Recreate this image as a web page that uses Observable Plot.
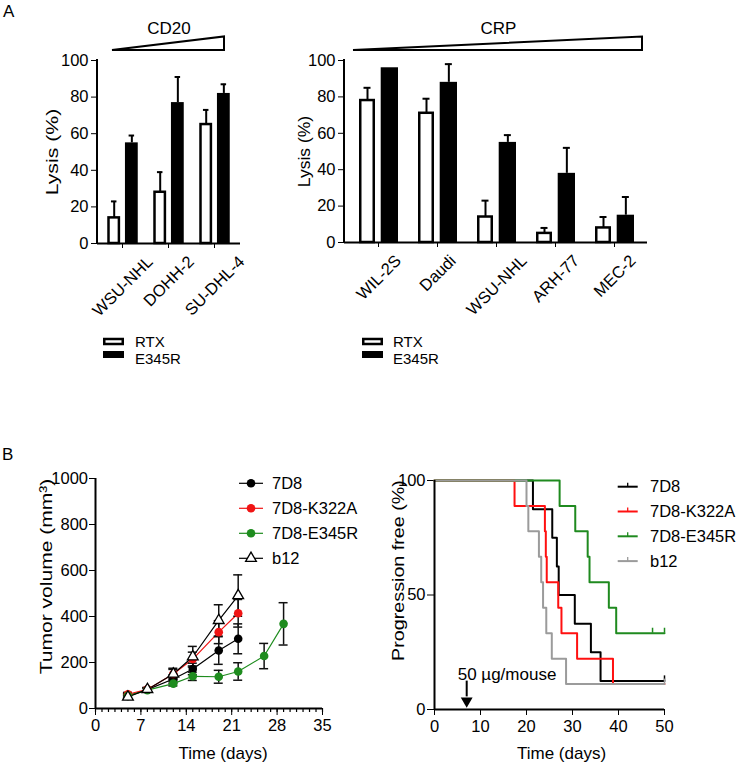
<!DOCTYPE html>
<html>
<head>
<meta charset="utf-8">
<script src="https://cdn.jsdelivr.net/npm/d3@7"></script>
<script src="https://cdn.jsdelivr.net/npm/@observablehq/plot@0.6"></script>
<style>
html,body{margin:0;padding:0;background:#fff;}
#root{position:relative;width:737px;height:765px;overflow:hidden;background:#fff;}
#root svg{position:absolute;left:0;top:0;background:transparent;overflow:visible;max-width:none;}
</style>
</head>
<body>
<div id="root"></div>
<script>
// ---------------- Data ----------------
// Panel A (left): CD20
const cd20Lines = ["WSU-NHL", "DOHH-2", "SU-DHL-4"];
const cd20RTX = [14, 28, 65];
const cd20RTXErr = [9, 11, 8];
const cd20E345R = [55, 77, 82];
const cd20E345RErr = [4, 14, 5];

// Panel A (right): CRP
const crpLines = ["WIL-2S", "Daudi", "WSU-NHL", "ARH-77", "MEC-2"];
const crpRTX = [78, 71, 14, 5, 8];
const crpRTXErr = [7, 8, 9, 3, 6];
const crpE345R = [96, 88, 55, 38, 15];
const crpE345RErr = [0, 10, 4, 14, 10];

const lysisTicks = [0, 20, 40, 60, 80, 100];
const barSeries = ["RTX", "E345R"];

// Panel B (left): tumor volume
const tvSeries = ["7D8", "7D8-K322A", "7D8-E345R", "b12"];
const tvDays = [5, 8, 12, 15, 19, 22];
const tvDaysE345R = [5, 8, 12, 15, 19, 22, 26, 29];
const tv7D8 = [55, 82, 128, 172, 252, 303];
const tv7D8Err = [10, 8, 18, 25, 60, 65];
const tvK322A = [62, 83, 150, 215, 332, 414];
const tvK322AErr = [8, 8, 20, 30, 50, 60];
const tvE345R = [55, 80, 108, 140, 138, 161, 228, 368];
const tvE345RErr = [8, 6, 10, 18, 28, 38, 55, 92];
const tvB12 = [50, 83, 150, 225, 383, 491];
const tvB12Err = [8, 8, 25, 45, 68, 90];
const tvXTicks = [0, 7, 14, 21, 28, 35];
const tvYTicks = [0, 200, 400, 600, 800, 1000];
const tvMinorTicks = d3.range(0, 36);

// Panel B (right): progression-free (Kaplan-Meier)
const kmT7D8 = [0, 21.4, 25.6, 26.6, 27.0, 30.5, 34.0, 36.1, 50];
const kmS7D8 = [100, 87.5, 75, 62.5, 50, 37.5, 25, 12.5, 12.5];
const kmTK322A = [0, 17.4, 24.0, 24.2, 24.4, 26.9, 27.6, 31.0, 38.8, 50];
const kmSK322A = [100, 88.9, 77.8, 66.7, 55.6, 44.4, 33.3, 22.2, 11.1, 11.1];
const kmTE345R = [0, 27.2, 30.6, 33.3, 33.7, 37.9, 39.5, 50];
const kmSE345R = [100, 88.9, 77.8, 66.7, 55.6, 44.4, 33.3, 33.3];
const kmTB12 = [0, 20.0, 20.4, 22.7, 23.2, 23.6, 24.3, 25.5, 28.6, 50];
const kmSB12 = [100, 88.9, 77.8, 66.7, 55.6, 44.4, 33.3, 22.2, 11.1, 11.1];
const kmCensor7D8 = [50];
const kmCensorK322A = [];
const kmCensorE345R = [47.4, 50];
const kmCensorB12 = [50];
const kmXTicks = [0, 10, 20, 30, 40, 50];
const kmYTicks = [0, 50, 100];
const doseDay = [7];
const doseLabel = "50 µg/mouse";

const tvColors = ["#000000", "#f01414", "#1e8c1e", "#000000"];
const kmColors = ["#000000", "#ff1010", "#1f8a1f", "#9b9b9b"];

// ---------------- Layout ----------------
const W = 737, H = 765;
const FONT = '"Liberation Sans", Arial, Helvetica, sans-serif';
const root = document.getElementById("root");
const svgNS = "http://www.w3.org/2000/svg";
const baseStyle = {fontFamily: FONT, fontSize: "16.5px", background: "transparent", overflow: "visible", color: "black"};
function frame(l, r, t, b) {
  return {width: W, height: H, marginLeft: l, marginRight: W - r, marginTop: t, marginBottom: H - b};
}
// y-axis line drawn at the frame's left edge (render-function mark)
function yAxisLine(index, scales, values, dims) {
  const el = document.createElementNS(svgNS, "line");
  el.setAttribute("x1", dims.marginLeft); el.setAttribute("x2", dims.marginLeft);
  el.setAttribute("y1", dims.marginTop - 1); el.setAttribute("y2", dims.height - dims.marginBottom + 1);
  el.setAttribute("stroke", "black"); el.setAttribute("stroke-width", 2);
  return el;
}
function fixRotated(svg) {
  d3.select(svg).selectAll("text").each(function () {
    const tr = this.getAttribute("transform") || "";
    if (tr.includes("rotate(-45)")) {
      const L = this.getComputedTextLength();
      this.setAttribute("transform", `translate(${(0.3536 * L).toFixed(2)},0) ` + tr);
    }
  });
}
// stretch a rotated axis title along its baseline (the reference's titles are elongated)
function stretch(svg, label, k) {
  d3.select(svg).selectAll("text").filter(function () { return this.textContent === label; }).each(function () {
    const tr = this.getAttribute("transform") || "";
    this.setAttribute("transform", tr + ` scale(${k},1)`);
  });
}

// ---------------- Bar panels ----------------
function barPanel(cats, rtx, rtxErr, e345r, e345rErr, cfg) {
  const rows = cats.map((c, i) => ({c, rtx: rtx[i], rtxErr: rtxErr[i], e: e345r[i], eErr: e345rErr[i]}));
  const s = cfg.step, bw = cfg.bw;
  const pi = 1 - bw / s;
  const po = ((cfg.right - cfg.left) / s - cats.length + pi) / 2;
  const geom = (from, to, sw) => ({insetLeft: bw / 2 + from + sw / 2, insetRight: bw / 2 - to + sw / 2, mid: (from + to) / 2});
  const gR = geom(cfg.rtx[0], cfg.rtx[1], 2.5), gE = geom(cfg.e[0], cfg.e[1], 0);
  const cap = (mid, w) => ({insetLeft: bw / 2 + mid - w / 2, insetRight: bw / 2 - mid - w / 2});
  const rowsRE = rows.filter(d => d.rtxErr > 0), rowsEE = rows.filter(d => d.eErr > 0);
  return Plot.plot({
    ...frame(cfg.left, cfg.right, 60, cfg.bottom),
    style: baseStyle,
    x: {type: "band", domain: cats, paddingInner: pi, paddingOuter: po, tickSize: 5, tickFormat: () => "", label: null},
    y: {domain: [0, 100], ticks: lysisTicks, tickSize: 6, tickPadding: 3, tickFormat: d3.format("d"), label: null},
    marks: [
      Plot.barY(rows, {x: "c", y: "rtx", fill: "white", stroke: "black", strokeWidth: 2.5, insetLeft: gR.insetLeft, insetRight: gR.insetRight}),
      Plot.barY(rows, {x: "c", y: "e", fill: "black", insetLeft: gE.insetLeft, insetRight: gE.insetRight}),
      Plot.ruleX(rowsRE, {x: "c", y1: "rtx", y2: d => d.rtx + d.rtxErr, dx: gR.mid, strokeWidth: 2}),
      Plot.tickY(rowsRE, {x: "c", y: d => d.rtx + d.rtxErr, ...cap(gR.mid, cfg.cap), strokeWidth: 2}),
      Plot.ruleX(rowsEE, {x: "c", y1: "e", y2: d => d.e + d.eErr, dx: gE.mid, strokeWidth: 2}),
      Plot.tickY(rowsEE, {x: "c", y: d => d.e + d.eErr, ...cap(gE.mid, cfg.cap), strokeWidth: 2}),
      Plot.ruleY([0], {strokeWidth: 2}),
      yAxisLine,
      Plot.text(cats, {x: d => d, text: d => d, frameAnchor: "bottom", rotate: -45, textAnchor: "end", lineAnchor: "top", dx: -4.2, dy: 11, fontSize: 16.5}),
      Plot.text(["Lysis (%)"], {text: d => d, frameAnchor: "left", textAnchor: "middle", dx: cfg.ylabDx, rotate: -90, fontSize: 17})
    ]
  });
}

const pA1 = barPanel(cd20Lines, cd20RTX, cd20RTXErr, cd20E345R, cd20E345RErr,
  {left: 97, right: 240, bottom: 243, step: 46.5, bw: 32.5, rtx: [-15, -1.6], e: [2.7, 16], cap: 6, ylabDx: -44.5});
const pA2 = barPanel(crpLines, crpRTX, crpRTXErr, crpE345R, crpE345RErr,
  {left: 344, right: 647, bottom: 242, step: 59, bw: 40, rtx: [-19, -3], e: [2.7, 20], cap: 7, ylabDx: -39.5});

// ---------------- Tumor volume panel ----------------
const tvData = [
  {name: tvSeries[0], days: tvDays, v: tv7D8, e: tv7D8Err},
  {name: tvSeries[1], days: tvDays, v: tvK322A, e: tvK322AErr},
  {name: tvSeries[2], days: tvDaysE345R, v: tvE345R, e: tvE345RErr},
  {name: tvSeries[3], days: tvDays, v: tvB12, e: tvB12Err}
];
const tvRows = tvData.flatMap(s => s.days.map((d, j) => ({name: s.name, day: d, v: s.v[j], e: s.e[j]})));
const tvCircles = tvRows.filter(d => d.name !== "b12");
const tvTriangles = tvRows.filter(d => d.name === "b12");

const pB1 = Plot.plot({
  ...frame(95, 322, 478, 708),
  style: baseStyle,
  x: {domain: [0, 35], ticks: tvXTicks, tickSize: 7, tickPadding: 4, tickFormat: d3.format("d"), label: null},
  y: {domain: [0, 1000], ticks: tvYTicks, tickSize: 6, tickPadding: 1.5, tickFormat: d3.format("d"), label: null},
  color: {domain: tvSeries, range: tvColors},
  marks: [
    Plot.ruleX(tvMinorTicks, {x: d => d, y1: () => 0, y2: () => 0, insetBottom: -4, strokeWidth: 1.2}),
    Plot.line(tvRows, {x: "day", y: "v", z: "name", stroke: "name", strokeWidth: 1.2}),
    Plot.ruleX(tvRows, {x: "day", y1: d => d.v - d.e, y2: d => d.v + d.e, stroke: "#111", strokeWidth: 1.5}),
    Plot.ruleY(tvRows, {x1: "day", x2: "day", y: d => d.v + d.e, insetLeft: -4.5, insetRight: -4.5, stroke: "#111", strokeWidth: 1.5}),
    Plot.ruleY(tvRows, {x1: "day", x2: "day", y: d => d.v - d.e, insetLeft: -4.5, insetRight: -4.5, stroke: "#111", strokeWidth: 1.5}),
    Plot.dot(tvCircles, {x: "day", y: "v", fill: "name", r: 4.3}),
    Plot.dot(tvTriangles, {x: "day", y: "v", symbol: "triangle", r: 4, fill: "white", stroke: "black", strokeWidth: 1.3}),
    Plot.ruleY([0], {strokeWidth: 2}),
    Plot.ruleX([0], {strokeWidth: 2}),
    Plot.text(["Tumor volume (mm³)"], {text: d => d, frameAnchor: "left", textAnchor: "middle", dx: -49, dy: -17, rotate: -90, fontSize: 17}),
    Plot.text(["Time (days)"], {text: d => d, frameAnchor: "bottom", dx: 14, dy: 50, lineAnchor: "bottom", fontSize: 17})
  ]
});

// ---------------- KM panel ----------------
const kmT = [kmT7D8, kmTK322A, kmTE345R, kmTB12];
const kmS = [kmS7D8, kmSK322A, kmSE345R, kmSB12];
const kmC = [kmCensor7D8, kmCensorK322A, kmCensorE345R, kmCensorB12];
const kmRows = tvSeries.flatMap((name, i) => kmT[i].map((t, j) => ({name, t, s: kmS[i][j]})));
const kmCensorRows = tvSeries.flatMap((name, i) => kmC[i].map(t => ({name, t, s: kmS[i][kmS[i].length - 1]})));

const pB2 = Plot.plot({
  ...frame(434, 664, 480, 709),
  style: baseStyle,
  x: {domain: [0, 50], ticks: kmXTicks, tickSize: 6, tickPadding: 5, tickFormat: d3.format("d"), label: null},
  y: {domain: [0, 100], ticks: kmYTicks, tickSize: 7, tickPadding: 2, tickFormat: d3.format("d"), label: null},
  color: {domain: tvSeries, range: kmColors},
  marks: [
    Plot.line(kmRows, {x: "t", y: "s", z: "name", stroke: "name", curve: "step-after", strokeWidth: 2}),
    Plot.ruleX(kmCensorRows, {x: "t", y1: "s", y2: "s", insetTop: -5, stroke: "name", strokeWidth: 1.5}),
    Plot.ruleX(doseDay, {x: d => d, y1: () => 12.4, y2: () => 5.5, strokeWidth: 2}),
    Plot.dot(doseDay, {x: d => d, y: () => 3.8, symbol: "triangle", rotate: 180, r: 4.4, fill: "black"}),
    Plot.text([doseLabel], {text: d => d, x: () => doseDay[0], y: () => 12.8, textAnchor: "start", lineAnchor: "bottom", dx: -9, fontSize: 17}),
    Plot.ruleY([0], {strokeWidth: 2}),
    Plot.ruleX([0], {strokeWidth: 2}),
    Plot.text(["Progression free (%)"], {text: d => d, frameAnchor: "left", textAnchor: "middle", dx: -36, dy: -24.5, rotate: -90, fontSize: 17}),
    Plot.text(["Time (days)"], {text: d => d, frameAnchor: "bottom", dx: 12, dy: 49, lineAnchor: "bottom", fontSize: 17})
  ]
});

for (const p of [pA1, pA2, pB1, pB2]) root.appendChild(p);
fixRotated(pA1); fixRotated(pA2);
stretch(pA1, "Lysis (%)", 1.25);
stretch(pA2, "Lysis (%)", 1.03);
stretch(pB1, "Tumor volume (mm³)", 1.24);
stretch(pB2, "Progression free (%)", 1.16);

// ---------------- Overlay: panel letters, wedges, legends ----------------
const ov = d3.select(root).append("svg").attr("width", W).attr("height", H)
  .style("font-family", FONT).attr("font-size", 17);
ov.append("text").attr("x", 3).attr("y", 17).text("A");
ov.append("text").attr("x", 2).attr("y", 460).text("B");

function wedge(x0, x1, label) {
  ov.append("path").attr("d", `M${x0},50L${x1},36.5L${x1},50Z`)
    .attr("fill", "white").attr("stroke", "black").attr("stroke-width", 2).attr("stroke-linejoin", "miter");
  ov.append("text").attr("x", (x0 + x1) / 2 + 1).attr("y", 34).attr("text-anchor", "middle").text(label);
}
wedge(112, 224, "CD20");
wedge(353, 642, "CRP");

function barLegend(x, tx) {
  ov.append("rect").attr("x", x + 1.25).attr("y", 339).attr("width", 18.5).attr("height", 5)
    .attr("fill", "white").attr("stroke", "black").attr("stroke-width", 2.5);
  ov.append("rect").attr("x", x).attr("y", 351).attr("width", 21).attr("height", 7).attr("fill", "black");
  ov.append("text").attr("x", tx).attr("y", 347).attr("font-size", 15).text(barSeries[0]);
  ov.append("text").attr("x", tx).attr("y", 364).attr("font-size", 15).text(barSeries[1]);
}
barLegend(103, 135);
barLegend(362, 393);

tvSeries.forEach((name, i) => {
  const y = 483.3 + i * 25;
  ov.append("line").attr("x1", 239).attr("x2", 263).attr("y1", y).attr("y2", y)
    .attr("stroke", tvColors[i]).attr("stroke-width", 1.2);
  if (name === "b12") {
    ov.append("path").attr("d", d3.symbol(d3.symbolTriangle, Math.PI * 16)())
      .attr("transform", `translate(251,${y})`).attr("fill", "white").attr("stroke", "black").attr("stroke-width", 1.3);
  } else {
    ov.append("circle").attr("cx", 251).attr("cy", y).attr("r", 4.3).attr("fill", tvColors[i]);
  }
  ov.append("text").attr("x", 272).attr("y", y).attr("dy", "0.35em").attr("font-size", 16.5).text(name);
});

tvSeries.forEach((name, i) => {
  const y = 486.7 + i * 24.8;
  ov.append("line").attr("x1", 617.7).attr("x2", 637.7).attr("y1", y).attr("y2", y)
    .attr("stroke", kmColors[i]).attr("stroke-width", 2);
  ov.append("line").attr("x1", 627.7).attr("x2", 627.7).attr("y1", y - 4).attr("y2", y)
    .attr("stroke", kmColors[i]).attr("stroke-width", 1.3);
  ov.append("text").attr("x", 650).attr("y", y).attr("dy", "0.35em").attr("font-size", 16.5).text(name);
});
</script>
</body>
</html>
